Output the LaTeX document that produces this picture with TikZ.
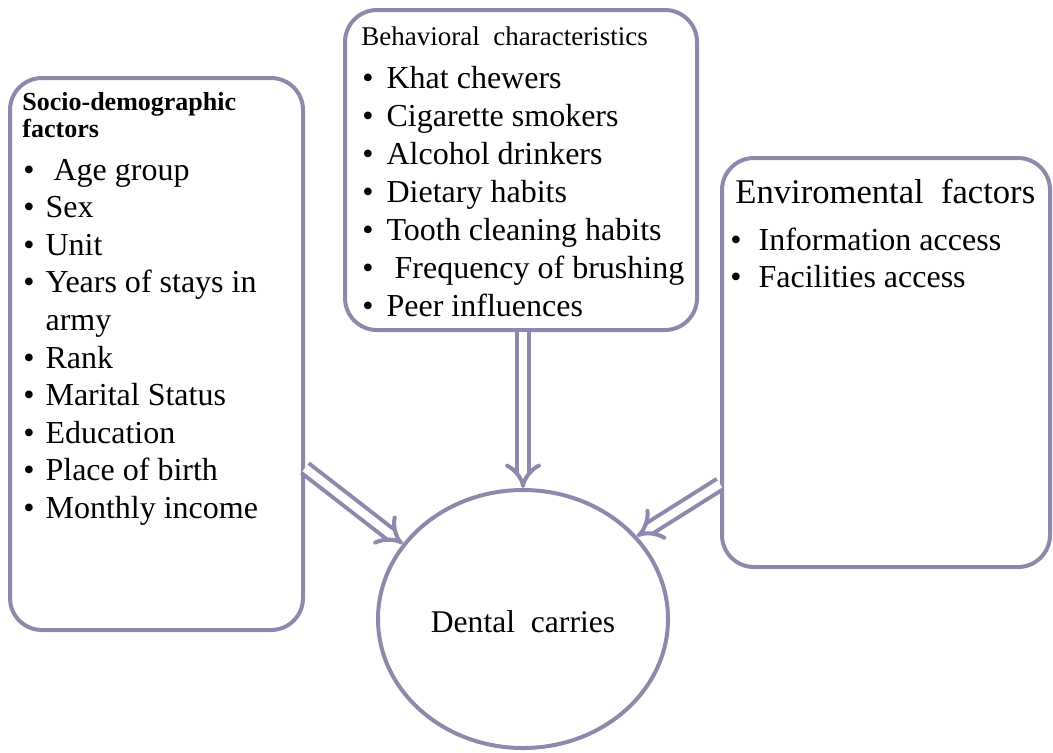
\documentclass[tikz,border=0pt]{standalone}
\usepackage{fontspec}
\setmainfont{Liberation Serif}
\usetikzlibrary{shapes.geometric,arrows.meta}
\definecolor{framegrey}{RGB}{142,137,172}
\begin{document}
\begin{tikzpicture}[x=0.5pt,y=-0.5pt]
            \tikzset{
                factorbox/.style={draw=framegrey,line width=2pt,rounded corners=16pt,inner sep=0pt},
                headtext/.style={anchor=base west,inner sep=0pt,align=left},
                listtext/.style={anchor=base west,inner sep=0pt,font=\fontsize{16}{18.8}\selectfont},
                influence/.style={draw=framegrey,line width=2pt,double=white,double distance=4pt,-{Implies[scale=0.8]}},}
            \def\blt{\textbullet}
            \useasboundingbox (0,0) rectangle (1053,752);
            \node[factorbox,minimum width=146.5pt,minimum height=276pt] (socio) at (156.5,354) {};
            \node[factorbox,minimum width=176pt,minimum height=160pt] (behav) at (521,170) {};
            \node[factorbox,minimum width=164pt,minimum height=204.5pt] (envir) at (886,362.5) {};
            \node[draw=framegrey,line width=2pt,ellipse,minimum width=145pt,minimum height=129pt,inner sep=0pt,
                font=\fontsize{15.8}{19}\selectfont,text height=13pt,text depth=0pt] (caries) at (523,619) {Dental\ \ carries};
            % last line of the heading sits on the given baseline
            \node[headtext,font=\fontsize{13}{13.5}\selectfont\bfseries] (sociohead) at (22,137) {Socio-demographic\\factors};
            \node[headtext,font=\fontsize{13.5}{16}\selectfont] (behavhead) at (361,45) {Behavioral\ \ characteristics};
            \node[headtext,font=\fontsize{17.3}{20}\selectfont] (envirhead) at (735,203) {Enviromental\ \ factors};
            \node[listtext] (sociolist) at (23,180) {\begin{tabular}[t]{@{}l@{\hspace{5.5pt}}l@{}}
                \blt & \ Age group\\ \blt & Sex\\ \blt & Unit\\ \blt & Years of stays in\\ & army\\
                \blt & Rank\\ \blt & Marital Status\\ \blt & Education\\ \blt & Place of birth\\ \blt & Monthly income
                \end{tabular}};
            \node[listtext,font=\fontsize{16}{19}\selectfont] (behavlist) at (362,88) {\begin{tabular}[t]{@{}l@{\hspace{6.5pt}}l@{}}
                \blt & Khat chewers\\ \blt & Cigarette smokers\\ \blt & Alcohol drinkers\\ \blt & Dietary habits\\
                \blt & Tooth cleaning habits\\ \blt & \ Frequency of brushing\\ \blt & Peer influences
                \end{tabular}};
            \node[listtext] (envirlist) at (730,250) {\begin{tabular}[t]{@{}l@{\hspace{8.5pt}}l@{}}
                \blt & Information access\\ \blt & Facilities access
                \end{tabular}};
            \draw[influence] (socio.east |- 0,468) -- (caries.148);
            \draw[influence] (behav.south -| caries.north) -- (caries.north);
            \draw[influence] (envir.west |- 0,484) -- (caries.36);
        \end{tikzpicture}
\end{document}
